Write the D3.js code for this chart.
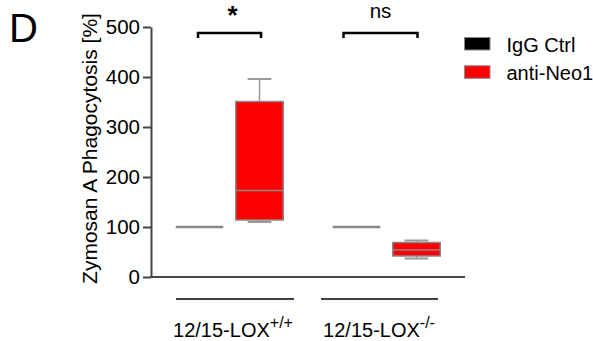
<!DOCTYPE html>
<html>
<head>
<meta charset="utf-8">
<style>
  body { margin: 0; background: #fff; }
  text { font-family: "Liberation Sans", Arial, sans-serif; fill: #000; }
  .axis path, .axis line { stroke: #444; stroke-width: 2; }
  .axis text { font-size: 20.5px; }
</style>
</head>
<body>
<svg width="593" height="341"></svg>
<script src="https://cdnjs.cloudflare.com/ajax/libs/d3/7.8.5/d3.min.js"></script>
<script>
// ---- data ----
var groups = ['wt', 'ko'];
var groupLabels = [['12/15-LOX', '+/+'], ['12/15-LOX', '-/-']];
var series = ['IgG Ctrl', 'anti-Neo1'];
var seriesColors = ['#000000', '#ff0000'];
// box stats per group: [min, q1, median, q3, max]
var igg = [[100, 100, 100, 100, 100], [100, 100, 100, 100, 100]];
var neo = [[110, 114, 173, 351, 396], [37, 42, 54, 69, 73]];
var signif = ['*', 'ns'];
var yTicks = [0, 100, 200, 300, 400, 500];

// ---- layout ----
var svg = d3.select('svg');
var x0 = 151, x1 = 465, yTop = 27, yBot = 277;
var y = d3.scaleLinear().domain([0, 500]).range([yBot, yTop]);
var xGroup = d3.scalePoint().domain(groups).range([x0, x1]).padding(0.5);
var xSeries = d3.scalePoint().domain(series).range([-30, 30]);
var xLabel = d3.scalePoint().domain(groups).range([233, 379]);
var boxW = 47.5;

// panel letter
svg.append('text').attr('x', 9).attr('y', 42).style('font-size', '40px').text('D');

// y axis title
svg.append('text')
  .attr('transform', 'translate(97,148.5) rotate(-90)')
  .attr('text-anchor', 'middle')
  .style('font-size', '21px')
  .text('Zymosan A Phagocytosis [%]');

// axes
svg.append('g').attr('class', 'axis')
  .attr('transform', 'translate(' + x0 + ',0)')
  .call(d3.axisLeft(y).tickValues(yTicks).tickSize(8).tickPadding(3).tickSizeOuter(0));
svg.append('line')
  .attr('x1', x0 - 1).attr('x2', x1).attr('y1', yBot).attr('y2', yBot)
  .attr('stroke', '#444').attr('stroke-width', 2);

// boxes
var all = [igg, neo];
series.forEach(function (s, si) {
  groups.forEach(function (g, gi) {
    var d = all[si][gi];
    var cx = xGroup(g) + xSeries(s);
    var grp = svg.append('g');
    // whiskers
    if (d[4] > d[3]) {
      grp.append('line').attr('x1', cx).attr('x2', cx).attr('y1', y(d[3])).attr('y2', y(d[4]))
        .attr('stroke', '#999').attr('stroke-width', 1.5);
      grp.append('line').attr('x1', cx - boxW / 4).attr('x2', cx + boxW / 4).attr('y1', y(d[4])).attr('y2', y(d[4]))
        .attr('stroke', '#999').attr('stroke-width', 2);
    }
    if (d[0] < d[1]) {
      grp.append('line').attr('x1', cx).attr('x2', cx).attr('y1', y(d[1])).attr('y2', y(d[0]))
        .attr('stroke', '#999').attr('stroke-width', 1.5);
      grp.append('line').attr('x1', cx - boxW / 4).attr('x2', cx + boxW / 4).attr('y1', y(d[0])).attr('y2', y(d[0]))
        .attr('stroke', '#999').attr('stroke-width', 2);
    }
    if (d[3] > d[1]) {
      grp.append('rect').attr('x', cx - boxW / 2).attr('width', boxW)
        .attr('y', y(d[3])).attr('height', y(d[1]) - y(d[3]))
        .attr('fill', seriesColors[si]).attr('stroke', '#888').attr('stroke-width', 1.5);
    }
    grp.append('line').attr('x1', cx - boxW / 2).attr('x2', cx + boxW / 2).attr('y1', y(d[2])).attr('y2', y(d[2]))
      .attr('stroke', '#888').attr('stroke-width', d[3] > d[1] ? 1.5 : 2.5);
  });
});

// group underlines and labels
var under = [[-57, 61], [-58, 59]];
groups.forEach(function (g, gi) {
  var c = xLabel(g);
  svg.append('line').attr('x1', c + under[gi][0]).attr('x2', c + under[gi][1])
    .attr('y1', 299).attr('y2', 299).attr('stroke', '#000').attr('stroke-width', 1.5);
  var t = svg.append('text').attr('x', c).attr('y', 337).attr('text-anchor', 'middle').style('font-size', '20px');
  t.append('tspan').text(groupLabels[gi][0]);
  t.append('tspan').attr('dy', -9).style('font-size', '16px').text(groupLabels[gi][1]);
});

// significance brackets
var br = [[-31.5, 31.5], [-43, 31]];
groups.forEach(function (g, gi) {
  var c = xGroup(g);
  var a = c + br[gi][0], b = c + br[gi][1];
  svg.append('path')
    .attr('d', 'M' + a + ',38V33H' + b + 'V38')
    .attr('fill', 'none').attr('stroke', '#000').attr('stroke-width', 2.5);
  svg.append('text').attr('x', (a + b) / 2 + (gi === 0 ? 3 : 0)).attr('y', gi === 0 ? 24 : 18)
    .attr('text-anchor', 'middle')
    .style('font-size', gi === 0 ? '26px' : '20.5px').style('font-weight', gi === 0 ? 'bold' : 'normal')
    .text(signif[gi]);
});

// legend
series.forEach(function (s, si) {
  var ly = 37.5 + si * 28.3;
  svg.append('rect').attr('x', 464.5).attr('y', ly).attr('width', 25.5).attr('height', 12.5)
    .attr('fill', seriesColors[si]).attr('stroke', '#888').attr('stroke-width', 1);
  svg.append('text').attr('x', 506.5).attr('y', ly + 14).style('font-size', '20px').text(s);
});
</script>
</body>
</html>
